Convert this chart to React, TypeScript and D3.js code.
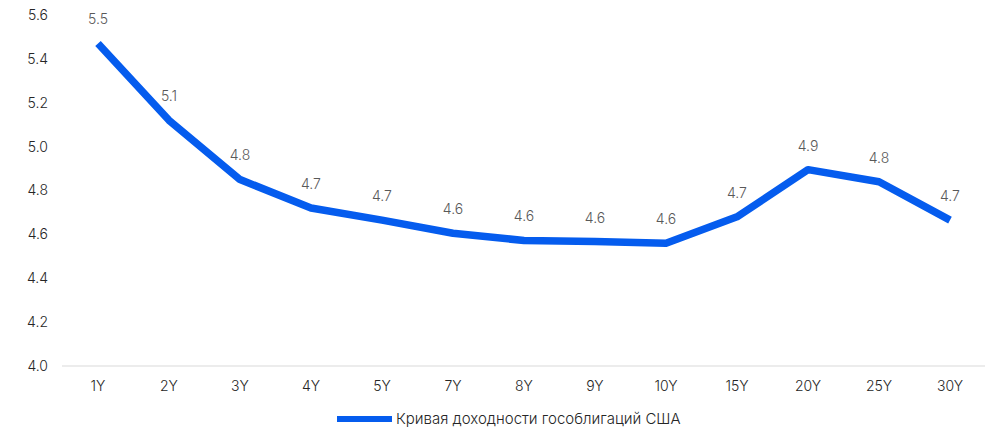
import { useEffect, useRef } from 'react'
import * as d3 from 'd3'

const tenors = ['1Y', '2Y', '3Y', '4Y', '5Y', '7Y', '8Y', '9Y', '10Y', '15Y', '20Y', '25Y', '30Y']
const yields = [5.47, 5.12, 4.85, 4.72, 4.665, 4.605, 4.572, 4.567, 4.56, 4.68, 4.895, 4.84, 4.665]
const yTicks = [4.0, 4.2, 4.4, 4.6, 4.8, 5.0, 5.2, 5.4, 5.6]
const seriesName = 'Кривая доходности гособлигаций США'

const W = 995
const H = 429
const FONT = 'Inter, Lato, sans-serif'
const BLUE = '#055CEE'

export default function App() {
  const svgRef = useRef<SVGSVGElement>(null)

  useEffect(() => {
    if (!svgRef.current) return
    const svg = d3.select(svgRef.current)
    svg.selectAll('*').remove()

    const x = d3.scalePoint<string>()
      .domain(tenors)
      .range([98, 950])

    const y = d3.scaleLinear()
      .domain([4.0, 5.6])
      .range([366, 15])

    // baseline
    svg.append('line')
      .attr('x1', 62)
      .attr('x2', 985)
      .attr('y1', y(4.0))
      .attr('y2', y(4.0))
      .attr('stroke', '#d9d9d9')
      .attr('stroke-width', 1)

    // y labels
    svg.append('g')
      .selectAll('text')
      .data(yTicks)
      .join('text')
      .attr('x', 48)
      .attr('y', d => y(d))
      .attr('dy', '0.35em')
      .attr('text-anchor', 'end')
      .attr('fill', '#262626')
      .style('font-family', FONT)
      .style('font-size', '14px')
      .style('font-weight', 300)
      .text(d => d.toFixed(1))

    // x labels
    svg.append('g')
      .selectAll('text')
      .data(tenors)
      .join('text')
      .attr('x', d => x(d)!)
      .attr('y', 386)
      .attr('dy', '0.35em')
      .attr('text-anchor', 'middle')
      .attr('fill', '#262626')
      .style('font-family', FONT)
      .style('font-size', '14px')
      .style('font-weight', 300)
      .text(d => d)

    const data = tenors.map((t, i) => ({ t, v: yields[i] }))

    const line = d3.line<{ t: string; v: number }>()
      .x(d => x(d.t)!)
      .y(d => y(d.v))

    svg.append('path')
      .datum(data)
      .attr('fill', 'none')
      .attr('stroke', BLUE)
      .attr('stroke-width', 7.5)
      .attr('stroke-linejoin', 'round')
      .attr('d', line)

    // data labels
    svg.append('g')
      .selectAll('text')
      .data(data)
      .join('text')
      .attr('x', d => x(d.t)!)
      .attr('y', d => y(d.v) - 24)
      .attr('dy', '0.35em')
      .attr('text-anchor', 'middle')
      .attr('fill', '#595959')
      .style('font-family', FONT)
      .style('font-size', '14px')
      .style('font-weight', 300)
      .text(d => d.v.toFixed(1))

    // legend
    const legend = svg.append('g')
    legend.append('line')
      .attr('x1', 337)
      .attr('x2', 392)
      .attr('y1', 419)
      .attr('y2', 419)
      .attr('stroke', BLUE)
      .attr('stroke-width', 6)
    legend.append('text')
      .attr('x', 396)
      .attr('y', 419)
      .attr('dy', '0.35em')
      .attr('fill', '#262626')
      .style('font-family', FONT)
      .style('font-size', '15px')
      .style('font-weight', 300)
      .text(seriesName)
  }, [])

  return (
    <svg
      ref={svgRef}
      width={W}
      height={H}
      style={{ position: 'absolute', left: 0, top: 0, background: '#fff' }}
    />
  )
}
